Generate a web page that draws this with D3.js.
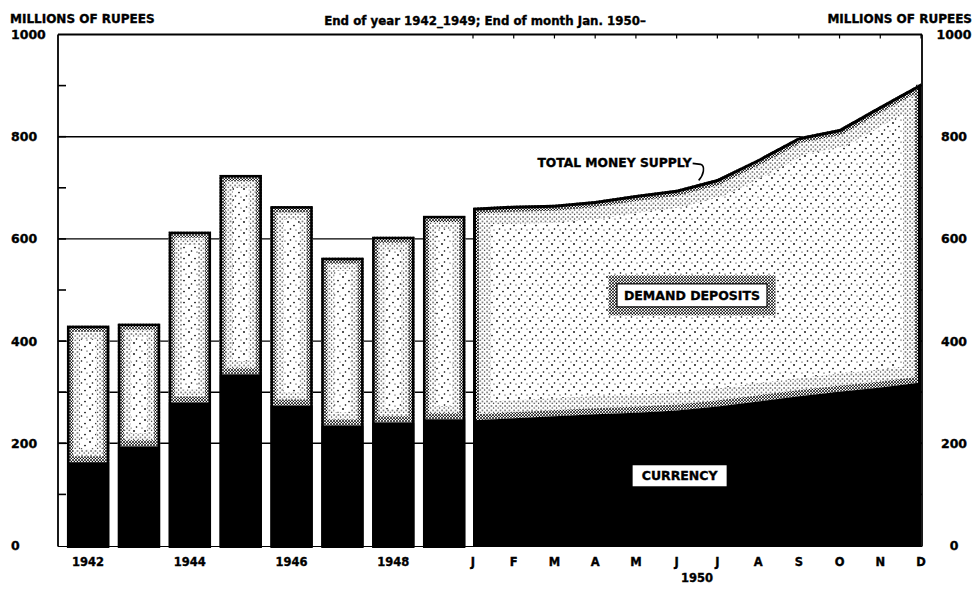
<!DOCTYPE html>
<html>
<head>
<meta charset="utf-8">
<script src="https://cdn.jsdelivr.net/npm/d3@7"></script>
<style>
  html, body { margin: 0; padding: 0; background: #fff; }
  svg { display: block; }
  text { font-family: "DejaVu Sans", sans-serif; font-weight: bold; fill: #000; stroke: #000; stroke-width: 0.35; }
</style>
</head>
<body>
<svg id="chart"></svg>
<script>
(function(){
"use strict";

// year-end values 1942-1949
const years = ["1942", "1943", "1944", "1945", "1946", "1947", "1948", "1949"];
const yearTotal = [430, 434, 614, 725, 664, 563, 604, 645];
const yearCurrency = [163, 194, 280, 335, 274, 235, 241, 247];
const yearLabels = ["1942", "1944", "1946", "1948"];

// month-end values 1950
const months = ["J", "F", "M", "A", "M", "J", "J", "A", "S", "O", "N", "D"];
const monthTotal = [661, 665, 667, 674, 686, 696, 717, 756, 799, 815, 860, 904];
const monthCurrency = [245, 249, 253, 257, 260, 264, 272, 282, 292, 301, 309, 319];

const yTicks = [0, 200, 400, 600, 800, 1000];
const gridValues = [200, 300, 400, 600, 800];

const width = 979, height = 591;
const left = 58, right = 922, top = 34.5, bottom = 545.5;

let svg = d3.select("#chart").attr("width", width).attr("height", height);
let defs = svg.append("defs");

// stipple textures
function pattern(id, size, dots){
  let p = defs.append("pattern").attr("id", id)
    .attr("patternUnits", "userSpaceOnUse")
    .attr("width", size).attr("height", size);
  p.append("rect").attr("width", size).attr("height", size).attr("fill", "#fff");
  dots.forEach(d => p.append("circle").attr("cx", d[0]).attr("cy", d[1]).attr("r", d[2]).attr("fill", "#000"));
}
pattern("pSparse", 11, [[2, 2, 0.9], [8, 5.5, 0.85], [4.5, 9, 0.8], [10, 10, 0.6]]);
pattern("pMed", 4.5, [[1, 1, 0.7], [3.2, 3, 0.65]]);
pattern("pDense", 3, [[1, 1, 0.95], [2.4, 2.4, 0.7]]);

let y = d3.scaleLinear().domain([0, 1000]).range([bottom, top]);

let xYear = d3.scaleBand().domain(years)
  .range([62.7, 469.6]).paddingInner(0.17).paddingOuter(0.085);

let xMonth = d3.scalePoint().domain(d3.range(months.length)).range([473, 921]);

// grid lines
svg.append("g").selectAll("line").data(gridValues).enter().append("line")
  .attr("x1", left).attr("x2", right)
  .attr("y1", d => y(d)).attr("y2", d => y(d))
  .attr("stroke", "#000").attr("stroke-width", 1.4);

// axes frame
let frame = svg.append("g").attr("stroke", "#000").attr("fill", "none");
frame.append("line").attr("x1", left).attr("x2", right).attr("y1", top).attr("y2", top).attr("stroke-width", 1.8);
frame.append("line").attr("x1", left).attr("x2", left).attr("y1", top).attr("y2", bottom + 1).attr("stroke-width", 1.8);
frame.append("line").attr("x1", right).attr("x2", right).attr("y1", top).attr("y2", bottom + 1).attr("stroke-width", 1.8);
frame.append("line").attr("x1", left).attr("x2", right).attr("y1", bottom + 1).attr("y2", bottom + 1).attr("stroke-width", 1);

let minor = d3.range(100, 1000, 100);
frame.selectAll(".tl").data(minor).enter().append("line")
  .attr("x1", left).attr("x2", left + 8).attr("y1", d => y(d)).attr("y2", d => y(d)).attr("stroke-width", 1.6);
frame.selectAll(".tr").data(minor).enter().append("line")
  .attr("x1", right - 6).attr("x2", right).attr("y1", d => y(d)).attr("y2", d => y(d)).attr("stroke-width", 1.6);
frame.selectAll(".tt").data(d3.range(months.length)).enter().append("line")
  .attr("x1", d => xMonth(d)).attr("x2", d => xMonth(d)).attr("y1", top).attr("y2", top + 4).attr("stroke-width", 1.2);

let clipId = 0;
function stipple(g, d, band){
  let id = "clip" + (clipId++);
  defs.append("clipPath").attr("id", id).append("path").attr("d", d);
  let s = g.append("g").attr("clip-path", "url(#" + id + ")");
  s.append("path").attr("d", d).attr("fill", "url(#pSparse)");
  s.append("path").attr("d", d).attr("fill", "none").attr("stroke", "url(#pMed)").attr("stroke-width", band);
  s.append("path").attr("d", d).attr("fill", "none").attr("stroke", "url(#pDense)").attr("stroke-width", 12);
}
function rectPath(x0, y0, x1, y1){
  return "M" + x0 + "," + y0 + "H" + x1 + "V" + y1 + "H" + x0 + "Z";
}

// bars
let bars = svg.append("g");
years.forEach(function(yr, i){
  let x0 = xYear(yr), x1 = x0 + xYear.bandwidth();
  let g = bars.append("g");
  stipple(g, rectPath(x0, y(yearTotal[i]), x1, y(yearCurrency[i])), 26);
  g.append("rect").attr("x", x0).attr("width", xYear.bandwidth())
    .attr("y", y(yearCurrency[i])).attr("height", y(0) - y(yearCurrency[i]) + 1)
    .attr("fill", "#000");
  g.append("rect").attr("x", x0 + 1.2).attr("width", xYear.bandwidth() - 2.4)
    .attr("y", y(yearTotal[i]) + 1.2).attr("height", y(0) - y(yearTotal[i]))
    .attr("fill", "none").attr("stroke", "#000").attr("stroke-width", 2.6);
});

// 1950 area
let idx = d3.range(months.length);
let deposits = d3.area().x(i => xMonth(i)).y0(i => y(monthCurrency[i])).y1(i => y(monthTotal[i]));
let currency = d3.area().x(i => xMonth(i)).y0(y(0) + 1).y1(i => y(monthCurrency[i]));
let whole = d3.area().x(i => xMonth(i)).y0(y(0) + 1).y1(i => y(monthTotal[i]));
let ag = svg.append("g");
stipple(ag, deposits(idx), 36);
ag.append("path").attr("d", currency(idx)).attr("fill", "#000");
let wid = "clip" + (clipId++);
defs.append("clipPath").attr("id", wid).append("path").attr("d", whole(idx));
ag.append("path").attr("d", whole(idx)).attr("fill", "none").attr("stroke", "#000")
  .attr("stroke-width", 6).attr("clip-path", "url(#" + wid + ")");

// labels inside
let dx = (xMonth(5) + xMonth(6)) / 2 - 5;
let ddBox = {x: dx - 75, y: y(512), w: 150, h: 23};
let lg = svg.append("g");
lg.append("rect").attr("x", ddBox.x - 4).attr("y", ddBox.y - 4).attr("width", ddBox.w + 8).attr("height", ddBox.h + 8)
  .attr("fill", "none").attr("stroke", "url(#pDense)").attr("stroke-width", 9);
lg.append("rect").attr("x", ddBox.x).attr("y", ddBox.y).attr("width", ddBox.w).attr("height", ddBox.h)
  .attr("fill", "#fff").attr("stroke", "#000").attr("stroke-width", 1.2);
lg.append("text").attr("x", ddBox.x + ddBox.w / 2).attr("y", ddBox.y + ddBox.h / 2 + 4.5)
  .attr("text-anchor", "middle").attr("font-size", 12.5).text("DEMAND DEPOSITS");

let cx = xMonth(5) + 3;
lg.append("rect").attr("x", cx - 47).attr("y", y(157)).attr("width", 94).attr("height", 21).attr("fill", "#fff");
lg.append("text").attr("x", cx).attr("y", y(157) + 15).attr("text-anchor", "middle")
  .attr("font-size", 12.5).text("CURRENCY");

// total money supply annotation
let tx = xMonth(5) + 15, ty = y(740);
lg.append("text").attr("x", tx).attr("y", ty).attr("text-anchor", "end")
  .attr("font-size", 12.3).text("TOTAL MONEY SUPPLY");
lg.append("path")
  .attr("d", "M" + (tx + 1) + "," + (ty - 4) + " L" + (tx + 9) + "," + (ty - 3) +
    " C" + (tx + 14) + "," + (ty - 1) + " " + (tx + 12) + "," + (ty + 8) + " " + (tx + 7) + "," + (ty + 13))
  .attr("fill", "none").attr("stroke", "#000").attr("stroke-width", 1.6);

// y tick labels
let yl = svg.append("g").attr("font-size", 12.5);
yl.selectAll(".l").data(yTicks).enter().append("text")
  .attr("x", 11).attr("y", d => y(d) + 4.5).text(d => d);
yl.selectAll(".r").data(yTicks).enter().append("text")
  .attr("x", 954).attr("y", d => y(d) + 4.5).attr("text-anchor", "middle").text(d => d);

// x labels
let xl = svg.append("g").attr("font-size", 11.5).attr("text-anchor", "middle");
xl.selectAll(".y").data(yearLabels).enter().append("text")
  .attr("x", d => xYear(d) + xYear.bandwidth() / 2).attr("y", 566).text(d => d);
xl.selectAll(".m").data(idx).enter().append("text")
  .attr("x", i => xMonth(i)).attr("y", 566).text(i => months[i]);
xl.append("text").attr("x", (xMonth(5) + xMonth(6)) / 2).attr("y", 582).text("1950");

// headers
let hd = svg.append("g").attr("font-size", 12);
hd.append("text").attr("x", 10).attr("y", 23).text("MILLIONS OF RUPEES");
hd.append("text").attr("x", 972).attr("y", 23).attr("text-anchor", "end").text("MILLIONS OF RUPEES");
hd.append("text").attr("x", 485).attr("y", 25).attr("text-anchor", "middle").attr("font-size", 11.8)
  .text("End of year 1942_1949;  End of month  Jan. 1950\u2013");

})();
</script>
</body>
</html>
